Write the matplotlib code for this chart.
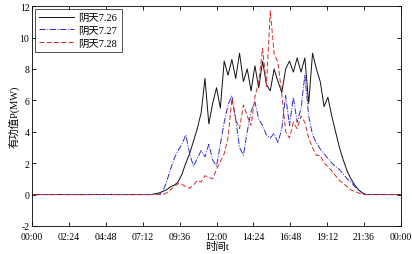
import numpy as np
import matplotlib
matplotlib.use("Agg")
import matplotlib.pyplot as plt

plt.rcParams['font.family'] = ['Liberation Serif', 'Noto Sans CJK SC']
plt.rcParams['axes.unicode_minus'] = False

# 15-minute samples, values in MW
step_h = 0.25
start_h = 7.75

p_726 = [0.0, 0.05, 0.1, 0.2, 0.3, 0.5, 0.6, 0.8, 1.3, 2.0, 2.6, 3.4, 4.2, 5.2, 7.4,
         4.5, 5.8, 6.8, 5.5, 8.5, 7.6, 8.6, 7.4, 9.0, 7.2, 8.0, 6.6, 8.2, 6.8, 8.5,
         7.0, 6.6, 8.0, 7.2, 6.5, 8.0, 8.5, 7.8, 8.7, 7.8, 8.7, 5.8, 9.0, 8.0, 7.2,
         5.6, 6.2, 5.0, 4.0, 3.0, 2.2, 1.5, 1.0, 0.6, 0.3, 0.1, 0.0]
p_727 = [0.0, 0.0, 0.0, 0.2, 0.8, 1.6, 2.3, 2.8, 3.2, 3.8, 2.6, 1.8, 2.3, 2.8, 2.4,
         3.2, 2.2, 1.8, 3.2, 4.6, 5.7, 6.3, 4.8, 3.0, 2.5, 4.0, 5.3, 5.9, 4.8, 4.4,
         3.8, 3.6, 3.9, 3.3, 4.2, 6.3, 4.4, 6.2, 4.6, 5.5, 7.6, 5.0, 3.8, 3.3, 2.9,
         2.6, 2.3, 2.0, 1.8, 1.6, 1.3, 1.0, 0.8, 0.5, 0.3, 0.1, 0.0]
p_728 = [0.0, 0.0, 0.0, 0.0, 0.1, 0.3, 0.5, 0.7, 0.65, 0.5, 0.4, 0.6, 0.9, 0.8, 1.2,
         1.1, 1.0, 1.6, 2.1, 2.6, 3.6, 6.1, 4.8, 4.2, 5.7, 5.0, 4.4, 6.2, 7.2, 9.3,
         6.9, 11.7, 9.0, 8.4, 6.4, 4.0, 3.6, 4.6, 4.2, 5.0, 4.6, 3.6, 3.0, 2.5, 2.5,
         2.0, 1.8, 1.5, 1.2, 0.9, 0.7, 0.5, 0.3, 0.2, 0.1, 0.0, 0.0]

series_names = ['阴天7.26', '阴天7.27', '阴天7.28']
tick_hours = [0, 2.4, 4.8, 7.2, 9.6, 12, 14.4, 16.8, 19.2, 21.6, 24]
tick_labels = ['00:00', '02:24', '04:48', '07:12', '09:36', '12:00',
               '14:24', '16:48', '19:12', '21:36', '00:00']


def full_day(vals):
    # pad the active part with zeros to cover the whole day
    t = np.arange(0, 24 + 1e-9, step_h)
    y = np.zeros_like(t)
    i0 = int(round(start_h / step_h))
    y[i0:i0 + len(vals)] = vals
    return t, y


fig = plt.figure(figsize=(4.12, 2.55), dpi=100)
ax = fig.add_axes([0.078, 0.110, 0.895, 0.862])

styles = [('-', '#111111', None), ('-.', '#2b2bd0', None), ('--', '#d42a2a', (0, (5, 2.5)))]
for vals, name, (ls, col, dash) in zip([p_726, p_727, p_728], series_names, styles):
    t, y = full_day(vals)
    line, = ax.plot(t, y, ls, color=col, lw=0.7, label=name)
    if dash is not None:
        line.set_linestyle(dash)

ax.set_xlim(0, 24)
ax.set_ylim(-2, 12)
ax.set_xticks(tick_hours)
ax.set_xticklabels(tick_labels)
ax.set_yticks(range(-2, 13, 2))
ax.tick_params(direction='in', top=True, right=True, labelsize=7, length=3, width=0.6, pad=2)
ax.tick_params(axis='x', pad=4)
for s in ax.spines.values():
    s.set_linewidth(0.6)

ax.set_xlabel('时间t', fontsize=7.5, labelpad=0)
ax.set_ylabel('有功值P(MW)', fontsize=7.5, labelpad=0)

leg = ax.legend(loc='upper left', fontsize=7.5, frameon=True, fancybox=False,
                edgecolor='black', handlelength=3.4, borderpad=0.4, labelspacing=0.35,
                handletextpad=0.4, borderaxespad=0.25)
leg.get_frame().set_linewidth(0.6)

fig.savefig('out.png', dpi=100)
